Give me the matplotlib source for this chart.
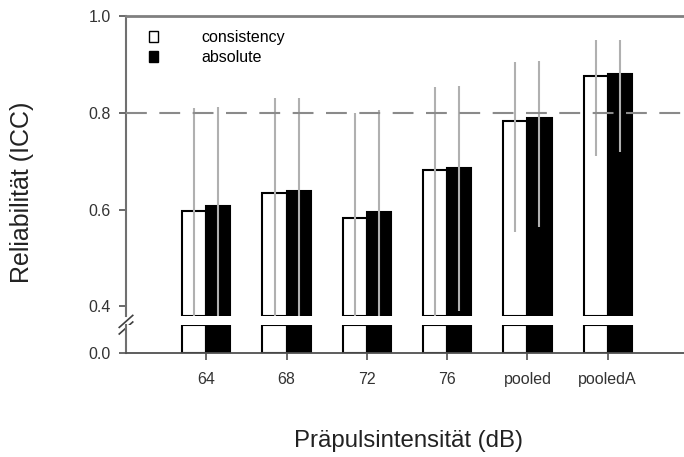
import matplotlib
matplotlib.use("Agg")
import matplotlib.pyplot as plt
from matplotlib.patches import Patch
import numpy as np

plt.rcParams['font.family'] = ['Liberation Sans', 'DejaVu Sans']

categories = ["64", "68", "72", "76", "pooled", "pooledA"]
consistency = [0.598, 0.635, 0.583, 0.682, 0.783, 0.877]
absolute = [0.608, 0.638, 0.595, 0.685, 0.790, 0.880]
cons_upper = [0.810, 0.830, 0.800, 0.853, 0.905, 0.950]
cons_lower = [0.300, 0.300, 0.300, 0.300, 0.553, 0.710]
abs_upper = [0.812, 0.830, 0.805, 0.855, 0.907, 0.950]
abs_lower = [0.300, 0.300, 0.300, 0.390, 0.563, 0.718]
ref_line = 0.8

x = np.arange(len(categories))
w = 0.3
top_lim = (0.38, 1.0)
bot_lim = (0.0, 0.058)

fig = plt.figure(figsize=(6.84, 4.57), dpi=100)
ax = fig.add_axes([126/684, 141/457, 562/684, 300/457])
axb = fig.add_axes([126/684, 104/457, 562/684, 28/457])

for a in (ax, axb):
    a.set_xlim(-1, 6)
    a.spines['right'].set_visible(False)

ax.set_ylim(*top_lim)
axb.set_ylim(*bot_lim)

# upper segment of the bars
ax.bar(x - w/2, np.array(consistency) - top_lim[0], w, bottom=top_lim[0],
       color="white", edgecolor="black", linewidth=1.5, zorder=2)
ax.bar(x + w/2, np.array(absolute) - top_lim[0], w, bottom=top_lim[0],
       color="black", edgecolor="black", linewidth=1.5, zorder=2)
# lower segment
axb.bar(x - w/2, bot_lim[1] - 0.001, w, color="white", edgecolor="black",
        linewidth=1.5, zorder=2)
axb.bar(x + w/2, bot_lim[1] - 0.001, w, color="black", edgecolor="black",
        linewidth=1.5, zorder=2)

# confidence intervals
ax.vlines(x - w/2, np.maximum(cons_lower, top_lim[0]), cons_upper,
          color="#b0b0b0", linewidth=1.5, zorder=3)
ax.vlines(x + w/2, np.maximum(abs_lower, top_lim[0]), abs_upper,
          color="#b0b0b0", linewidth=1.5, zorder=3)

ax.axhline(ref_line, color="#8a8a8a", linewidth=1.5, dashes=(10, 6), zorder=4)

ax.spines['top'].set_color("#808080")
ax.spines['top'].set_linewidth(2)
ax.spines['left'].set_color("#707070")
ax.spines['left'].set_linewidth(1.5)
ax.spines['bottom'].set_visible(False)
axb.spines['top'].set_visible(False)
axb.spines['left'].set_color("#707070")
axb.spines['left'].set_linewidth(1.5)
axb.spines['bottom'].set_color("#505050")
axb.spines['bottom'].set_linewidth(1.3)

ax.set_yticks([0.4, 0.6, 0.8, 1.0])
ax.set_yticklabels(["0.4", "0.6", "0.8", "1.0"])
ax.set_xticks([])
axb.set_yticks([0.0])
axb.set_yticklabels(["0.0"])
axb.set_xticks(x)
axb.set_xticklabels(categories)
for a in (ax, axb):
    a.tick_params(axis='both', direction='out', length=5, width=1.2,
                  color="#505050", labelsize=11.5, labelcolor="#333333", pad=6)
axb.tick_params(axis='x', pad=9)

# break marks
d = 0.012
for yy in (-0.018, -0.04):
    ax.plot([-d, d], [yy - 0.02, yy + 0.02], transform=ax.transAxes,
            color="#404040", linewidth=1.2, clip_on=False)
    ax.plot([0.993, 1.005], [yy - 0.02, yy + 0.02], transform=ax.transAxes,
            color="#404040", linewidth=1.2, clip_on=False)

handles = [Patch(facecolor="white", edgecolor="black", linewidth=1),
           Patch(facecolor="black", edgecolor="black", linewidth=1)]
ax.legend(handles, ["consistency", "absolute"], loc="upper left",
          bbox_to_anchor=(0.015, 1.0), frameon=False, fontsize=11.5,
          handlelength=0.6, handleheight=0.7, handletextpad=2.7,
          labelspacing=0.3)

fig.text(22/684, 1 - 192/457, "Reliabilität (ICC)", rotation=90,
         ha="center", va="center", fontsize=18, color="#222222")
fig.text(408/684, 1 - 441/457, "Präpulsintensität (dB)", ha="center",
         va="center", fontsize=17.3, color="#222222")

fig.savefig("out.png", dpi=100)
